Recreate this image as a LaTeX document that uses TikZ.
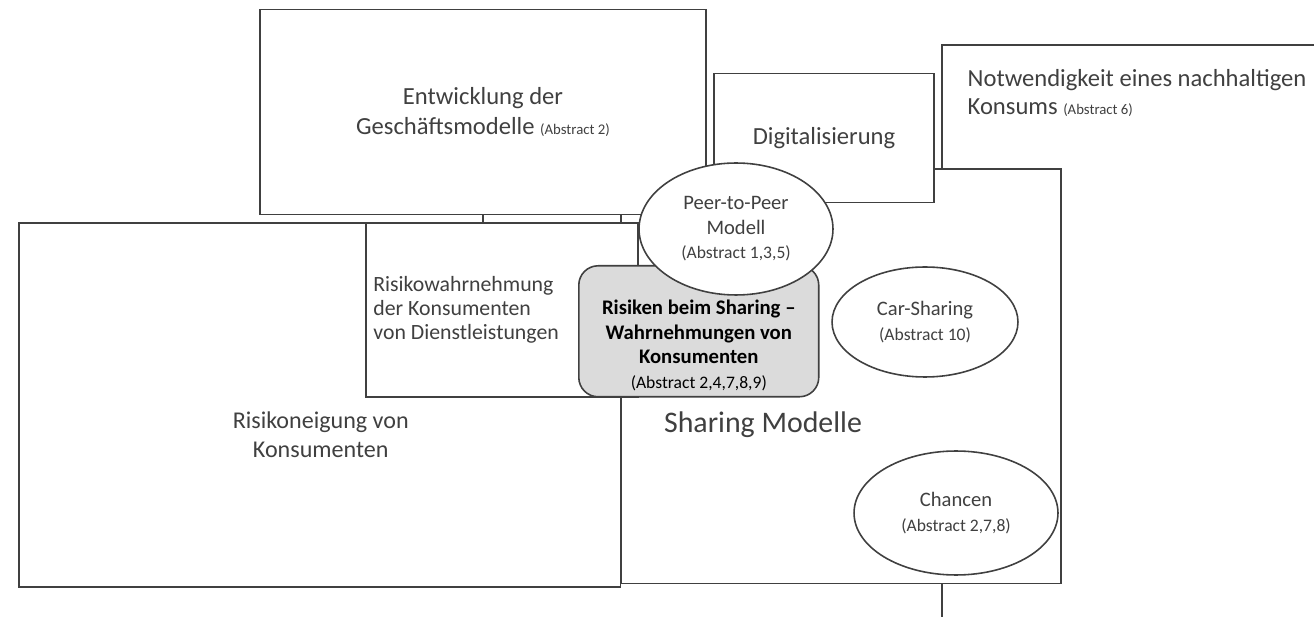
\documentclass[tikz,border=0pt]{standalone}
\usepackage{fontspec}
\setmainfont{Carlito}
\usetikzlibrary{positioning, shapes.geometric}

\newcommand{\absnote}[2][8.4]{{\fontsize{#1}{#1}\selectfont(Abstract #2)}}

\begin{document}
\begin{tikzpicture}[
  x=0.02cm, y=-0.02cm,
  line width=0.9pt,
  box/.style={draw=black!75, fill=white, anchor=north west, inner sep=0pt},
  oval/.style={draw=black!75, fill=white, ellipse, inner sep=0pt, align=center, text=black!75, font=\fontsize{11.7}{14}\selectfont},
  riskbox/.style={draw=black!75, fill=black!14, rounded corners=11pt, anchor=north west, inner sep=0pt},
  bigtxt/.style={align=center, text=black!75, font=\fontsize{14}{17}\selectfont},
  midtxt/.style={align=left, text=black!75, font=\fontsize{12.4}{13.6}\selectfont}
]
  \clip (0,0) rectangle (1314,617);
  \fill[white] (0,0) rectangle (1314,617);

  % boxes, back to front
  \node[box, minimum width=8cm, minimum height=12.4cm] (notw) at (941,44) {};
  \node[box, minimum width=8.8cm, minimum height=8.3cm] (shar) at (620,168) {};
  \node[box, anchor=center, bigtxt, minimum width=8.92cm, minimum height=4.1cm] (entw) at (483,112) {Entwicklung der\\Geschäftsmodelle \absnote{2}};
  \node[box, anchor=center, bigtxt, minimum width=4.4cm, minimum height=2.58cm] (digi) at (824,138) {Digitalisierung};
  \node[box, minimum width=12.04cm, minimum height=7.28cm] (neig) at (18,222) {};
  \node[box, minimum width=5.44cm, minimum height=3.48cm] (wahr) at (365,222) {};
  \node[oval, minimum width=3.72cm, minimum height=2.2cm] (car) at (925,322) {Car-Sharing\\\absnote[10]{10}};
  \node[oval, minimum width=4.08cm, minimum height=2.48cm] (chan) at (956,513) {Chancen\\\absnote[10]{2,7,8}};
  \node[riskbox, minimum width=4.8cm, minimum height=2.62cm] (risk) at (578,265) {};
  \node[oval, minimum width=3.88cm, minimum height=2.64cm] (peer) at (736,229) {Peer-to-Peer\\Modell\\\absnote[10]{1,3,5}};

  % texts
  \node[bigtxt, font=\fontsize{14}{16}\selectfont, anchor=north west, align=left] (notwtxt) at ([shift={(20,19)}]notw.north west) {Notwendigkeit eines nachhaltigen\\Konsums \absnote{6}};
  \node[bigtxt, font=\fontsize{17}{19}\selectfont] (shartxt) at ([shift={(143,-160)}]shar.south west) {Sharing Modelle};
  \node[bigtxt, font=\fontsize{13.7}{16.5}\selectfont] (neigtxt) at ([shift={(1,30)}]neig.center) {Risikoneigung von\\Konsumenten};
  \node[midtxt, right=1pt of wahr.west] (wahrtxt) {Risikowahrnehmung\\der Konsumenten\\von Dienstleistungen};
  \node[align=center, font=\fontsize{11.8}{14}\selectfont\bfseries, above=0pt of risk.south] (risktxt) {Risiken beim Sharing --\\Wahrnehmungen von\\Konsumenten\\\mdseries\absnote[10]{2,4,7,8,9}};

  \draw[black!75] (entw.south) -- (entw.south |- neig.north);
\end{tikzpicture}
\end{document}
